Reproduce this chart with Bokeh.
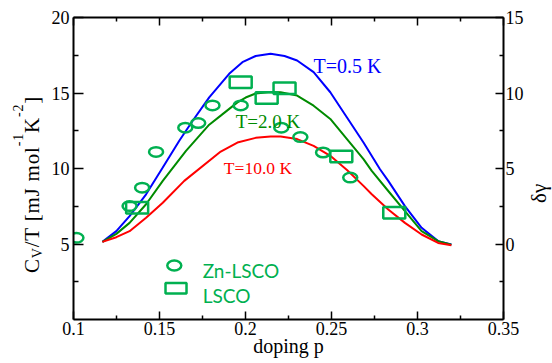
from bokeh.plotting import figure
from bokeh.layouts import row
from bokeh.models import Range1d, LinearAxis, FixedTicker, Label, Div
from bokeh.embed import file_html
from bokeh.resources import INLINE

# ---- data ----
# model curves: C_V/T [mJ mol^-1 K^-2] vs doping p
p_t05 = [0.1168, 0.1249, 0.1326, 0.1422, 0.1519, 0.1615, 0.1693, 0.1789, 0.1905, 0.1982, 0.2059, 0.2146,
         0.2227, 0.2300, 0.2396, 0.2493, 0.2590, 0.2686, 0.2782, 0.2830, 0.2927, 0.3024, 0.3120, 0.3197]
cv_t05 = [5.14, 5.85, 6.85, 8.29, 10.06, 11.84, 13.16, 14.71, 16.27, 17.04, 17.45, 17.60,
          17.45, 17.15, 16.38, 15.05, 13.38, 11.72, 9.95, 9.18, 7.51, 6.07, 5.19, 4.97]

p_t2 = [0.1168, 0.1249, 0.1326, 0.1422, 0.1519, 0.1654, 0.1789, 0.1856, 0.1953, 0.2001, 0.2059, 0.2146,
        0.2204, 0.2300, 0.2396, 0.2493, 0.2590, 0.2686, 0.2734, 0.2830, 0.2927, 0.3024, 0.3120, 0.3197]
cv_t2 = [5.14, 5.67, 6.40, 7.63, 9.18, 11.17, 12.90, 13.50, 14.38, 14.70, 14.97, 15.06,
         15.05, 14.83, 14.16, 13.28, 11.95, 10.62, 9.84, 8.51, 7.18, 5.85, 5.19, 4.95]

p_t10 = [0.1168, 0.1249, 0.1326, 0.1422, 0.1519, 0.1644, 0.1856, 0.1953, 0.2059, 0.2146, 0.2204,
         0.2300, 0.2396, 0.2493, 0.2590, 0.2686, 0.2734, 0.2830, 0.2927, 0.3024, 0.3120, 0.3197]
cv_t10 = [5.14, 5.45, 5.85, 6.74, 7.73, 9.18, 11.12, 11.72, 12.03, 12.12, 12.12,
          11.95, 11.50, 10.84, 9.90, 8.85, 8.29, 7.29, 6.40, 5.63, 5.07, 4.92]

# experimental delta-gamma (right axis)
zn_p = [0.1017, 0.1326, 0.1399, 0.1480, 0.1650, 0.1725, 0.1808, 0.1972, 0.2208, 0.2319, 0.2451, 0.2609]
zn_dg = [0.41, 2.51, 3.73, 6.10, 7.70, 8.01, 9.18, 9.18, 7.70, 7.08, 6.06, 4.40]

lsco_p = [0.1370, 0.1972, 0.2123, 0.2227, 0.2557, 0.2865]
lsco_dg = [2.40, 10.71, 9.67, 10.31, 5.79, 2.07]

curve_labels = ["T=0.5 K", "T=2.0 K", "T=10.0 K"]
series_labels = ["Zn-LSCO", "LSCO"]

x_ticks = [0.1, 0.15, 0.2, 0.25, 0.3, 0.35]
x_tick_labels = ["0.1", "0.15", "0.2", "0.25", "0.3", "0.35"]
x_minor = [0.125, 0.175, 0.225, 0.275, 0.325]
yl_ticks = [5, 10, 15, 20]
yl_minor = [2.5, 7.5, 12.5, 17.5]
yr_ticks = [0, 5, 10, 15]
yr_minor = [-2.5, 2.5, 7.5, 12.5]

# ---- styles ----
SERIF = "Liberation Serif"
BLUE = "#0000FF"
DGREEN = "#008B00"
RED = "#FF0000"
GREEN = "#00B050"
H = 363
LW, RW = 48, 26          # widths of the side strips holding the axis titles
MW = 552 - LW - RW       # main figure width

p = figure(width=MW, height=H, x_range=Range1d(0.1, 0.35), y_range=Range1d(0, 20),
           output_backend="svg", toolbar_location=None,
           min_border_left=24, min_border_right=22, min_border_top=17, min_border_bottom=44)
p.extra_y_ranges = {"dg": Range1d(-5, 15)}
p.xgrid.visible = False
p.ygrid.visible = False
p.outline_line_color = None
p.background_fill_color = "white"
p.border_fill_color = "white"

right = LinearAxis(y_range_name="dg")
top = LinearAxis()
p.add_layout(right, "right")
p.add_layout(top, "above")
bottom = p.below[0]
left = p.left[0]


def style(ax, tin, tmin, standoff):
    ax.axis_line_width = 2
    ax.axis_line_color = "black"
    ax.major_tick_in = tin
    ax.major_tick_out = 0
    ax.minor_tick_in = tmin
    ax.minor_tick_out = 0
    ax.major_tick_line_width = 1.5
    ax.minor_tick_line_width = 1.5
    ax.major_label_text_font = SERIF
    ax.major_label_text_font_size = "18px"
    ax.major_label_text_color = "black"
    ax.major_label_standoff = standoff


style(bottom, 8, 4, 2)
style(top, 8, 4, 0)
style(left, 10, 5, 4)
style(right, 8, 4, 2)

bottom.ticker = FixedTicker(ticks=x_ticks, minor_ticks=x_minor)
bottom.major_label_overrides = {t: s for t, s in zip(x_ticks, x_tick_labels)}
top.ticker = FixedTicker(ticks=x_ticks, minor_ticks=x_minor)
top.major_label_overrides = {t: "" for t in x_ticks}
top.major_label_text_font_size = "0px"
left.ticker = FixedTicker(ticks=yl_ticks, minor_ticks=yl_minor)
right.ticker = FixedTicker(ticks=yr_ticks, minor_ticks=yr_minor)

bottom.axis_label = "doping p"
bottom.axis_label_text_font = SERIF
bottom.axis_label_text_font_size = "20px"
bottom.axis_label_text_font_style = "normal"
bottom.axis_label_text_color = "black"
bottom.axis_label_standoff = -3

# ---- curves ----
p.line(p_t05, cv_t05, line_color=BLUE, line_width=2)
p.line(p_t2, cv_t2, line_color=DGREEN, line_width=2)
p.line(p_t10, cv_t10, line_color=RED, line_width=2)

# ---- experimental points (right axis) ----
p.ellipse(x=zn_p, y=zn_dg, width=14, height=9.5, width_units="screen", height_units="screen",
          fill_color=None, line_color=GREEN, line_width=2.5, y_range_name="dg")
p.rect(x=lsco_p, y=lsco_dg, width=22, height=11.5, width_units="screen", height_units="screen",
       fill_color=None, line_color=GREEN, line_width=2.5, y_range_name="dg")

# ---- curve labels ----
for txt, x, y, c, fs in zip(curve_labels, [0.2395, 0.1943, 0.1874], [16.77, 13.11, 10.03],
                            [BLUE, DGREEN, RED], ["20px", "19px", "17.5px"]):
    p.add_layout(Label(x=x, y=y, text=txt, text_font=SERIF, text_font_size=fs,
                       text_color=c, text_baseline="alphabetic", text_align="left"))

# ---- legend (drawn by hand) ----
p.ellipse(x=[0.1586], y=[3.58], width=14, height=10, width_units="screen", height_units="screen",
          fill_color=None, line_color=GREEN, line_width=2.5)
p.rect(x=[0.1596], y=[2.07], width=21, height=10.5, width_units="screen", height_units="screen",
       fill_color=None, line_color=GREEN, line_width=2.5)
for txt, y in zip(series_labels, [3.25, 1.59]):
    p.add_layout(Label(x=0.1751, y=y, text=txt, text_font="Lato", text_font_size="19px",
                       text_color=GREEN, text_baseline="alphabetic", text_align="left"))

# ---- axis titles: rotated HTML text in side strips (real sub/superscripts) ----
ROT = ("position:absolute;left:0;top:0;width:{h}px;height:{w}px;transform-origin:0 0;"
       "transform:translate(0px,{h}px) rotate(-90deg);font-family:'Liberation Serif';"
       "color:black;white-space:nowrap;box-sizing:border-box;")
SUB = "position:relative;top:3px;font-size:14px;line-height:0;"
SUP = "position:relative;top:-16px;font-size:14px;line-height:0;"

left_html = (
    f'<div style="position:relative;width:{LW}px;height:{H}px;">'
    f'<div style="{ROT.format(h=H, w=LW)}font-size:21px;line-height:21px;letter-spacing:0.8px;'
    f'padding-left:90px;padding-top:22px;">'
    f'C<span style="{SUB}">V</span>/T [mJ mol<span style="{SUP}">-1</span>K'
    f'<span style="{SUP}">-2</span>]</div></div>'
)
right_html = (
    f'<div style="position:relative;width:{RW}px;height:{H}px;">'
    f'<div style="{ROT.format(h=H, w=RW)}font-size:21px;line-height:21px;'
    f'padding-left:160px;padding-top:3px;">&delta;&gamma;</div></div>'
)
yl = Div(text=left_html, width=LW, height=H, margin=0)
yr = Div(text=right_html, width=RW, height=H, margin=0)

layout = row(yl, p, yr, spacing=0)
open("out.html", "w", encoding="utf-8").write(file_html(layout, INLINE))
